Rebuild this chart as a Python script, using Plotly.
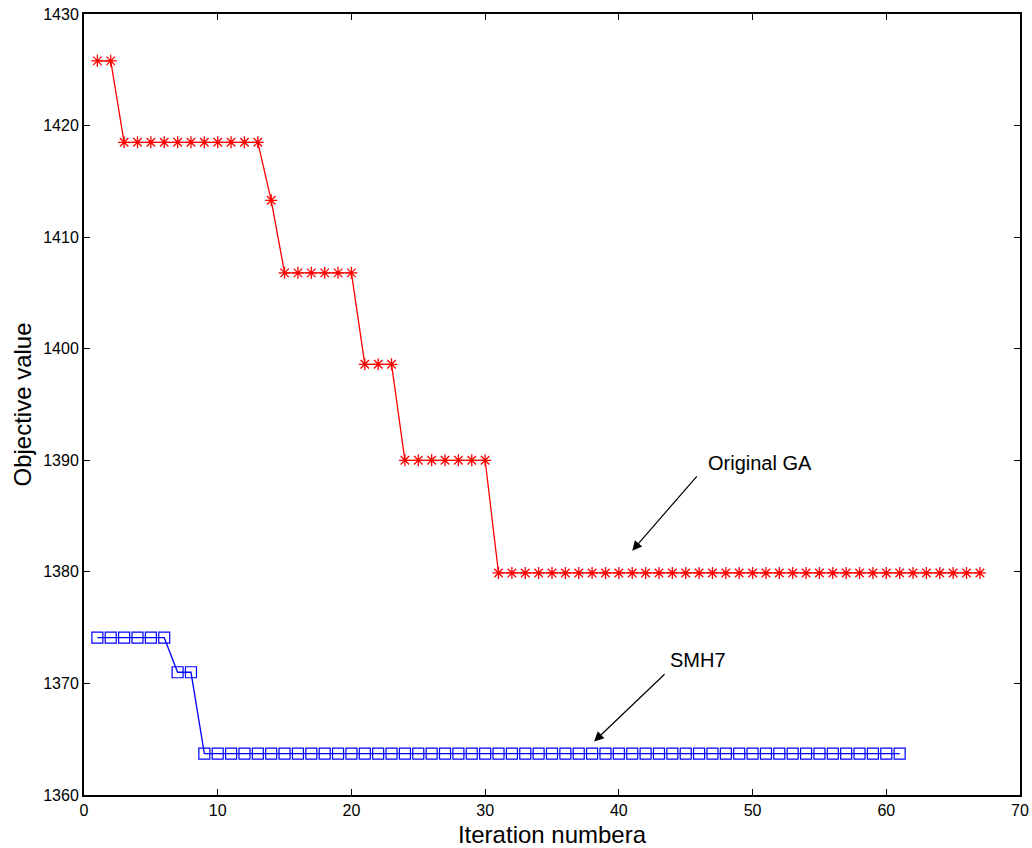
import plotly.graph_objects as go

ga_x = list(range(1, 68))
ga_y = [1425.8]*2 + [1418.5]*11 + [1413.3] + [1406.8]*6 + [1398.6]*3 + [1390.0]*7 + [1379.9]*37
smh_x = list(range(1, 62))
smh_y = [1374.1]*6 + [1371.0]*2 + [1363.7]*53

fig = go.Figure()
fig.add_trace(go.Scatter(x=ga_x, y=ga_y, mode="lines+markers",
                         line=dict(color="red", width=1.3),
                         marker=dict(symbol="asterisk-open", size=10, color="red",
                                     line=dict(color="red", width=1.3)),
                         showlegend=False))
fig.add_trace(go.Scatter(x=smh_x, y=smh_y, mode="lines+markers",
                         line=dict(color="blue", width=1.3),
                         marker=dict(symbol="square-open", size=11, color="blue",
                                     line=dict(color="blue", width=1.2)),
                         showlegend=False))

fig.add_annotation(x=41.0, y=1381.9, ax=45.93, ay=1388.7, axref="x", ayref="y",
                   text="", showarrow=True, arrowhead=2, arrowsize=1.6, arrowwidth=1.2,
                   arrowcolor="black")
fig.add_annotation(x=38.15, y=1364.8, ax=43.53, ay=1370.95, axref="x", ayref="y",
                   text="", showarrow=True, arrowhead=2, arrowsize=1.6, arrowwidth=1.2,
                   arrowcolor="black")
fig.add_annotation(x=50.56, y=1389.8, text="Original GA", showarrow=False,
                   font=dict(size=20, color="black"), xanchor="center", yanchor="middle")
fig.add_annotation(x=45.9, y=1372.1, text="SMH7", showarrow=False,
                   font=dict(size=20, color="black"), xanchor="center", yanchor="middle")

axis_common = dict(showgrid=False, zeroline=False, showline=True, linecolor="black",
                   linewidth=2, mirror="ticks", ticks="inside", ticklen=6,
                   tickcolor="black", tickfont=dict(size=16, color="black"),
                   automargin=False, ticklabeloverflow="allow")
fig.update_xaxes(range=[0, 70], dtick=10, title=dict(text="Iteration numbera",
                 font=dict(size=24, color="black"), standoff=14), **axis_common)
fig.update_yaxes(range=[1360, 1430], dtick=10, title=dict(text="Objective value",
                 font=dict(size=24, color="black"), standoff=5), **axis_common)

fig.update_layout(width=1032, height=848, plot_bgcolor="white", paper_bgcolor="white",
                  margin=dict(l=84, r=12, t=14, b=53),
                  font=dict(family="Liberation Sans, Arial, sans-serif"))
fig.write_html("out.html", config={"displayModeBar": False},
               post_script="document.body.style.margin='0';")
